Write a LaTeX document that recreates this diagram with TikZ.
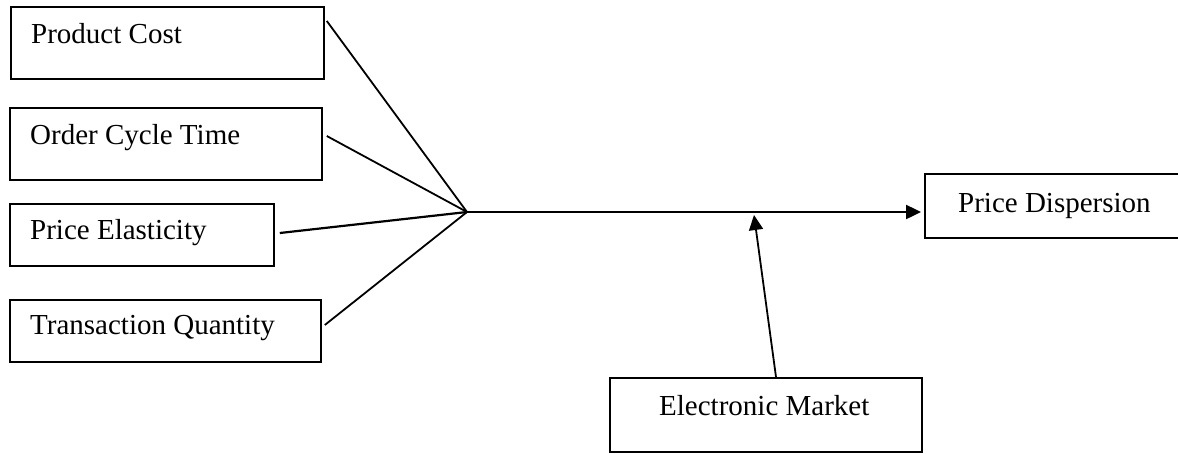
\documentclass[tikz,border=0pt]{standalone}
\usepackage{fontspec}
\setmainfont{Liberation Serif}
\usetikzlibrary{arrows.meta,calc}
\begin{document}
\begin{tikzpicture}[x=1pt,y=-1pt,
  box/.style={draw, line width=1.8pt, inner sep=0pt, anchor=north west},
  lbl/.style={anchor=base west, inner sep=0pt, font=\fontsize{29}{34}\selectfont},
  conn/.style={line width=1.8pt},
  tip/.style={-{Triangle[length=15pt,width=14pt]}}]
\useasboundingbox (0,0) rectangle (1178,453);
\node[box, minimum width=313pt, minimum height=72pt] (pc) at (10,6) {};
\node[box, minimum width=312pt, minimum height=72pt] (oct) at (9,107) {};
\node[box, minimum width=264pt, minimum height=62pt] (pe) at (9,203) {};
\node[box, minimum width=311pt, minimum height=62pt] (tq) at (9,299) {};
\node[box, minimum width=260pt, minimum height=64pt] (pd) at (924,173) {};
\node[box, minimum width=312pt, minimum height=74pt] (em) at (609,377) {};
\node[lbl] (pct) at (31,43) {Product Cost};
\node[lbl] (octt) at (30,144) {Order Cycle Time};
\node[lbl] (pet) at (30,239) {Price Elasticity};
\node[lbl] (tqt) at (30,334) {Transaction Quantity};
\node[lbl] (pdt) at (958,212) {Price Dispersion};
\node[lbl] (emt) at (659,415) {Electronic Market};
\coordinate (J) at (467,212);
\coordinate (M) at (754,215);
\draw[conn] ($(pc.north east)+(2,15)$) -- (J);
\draw[conn] ($(oct.north east)+(4,29)$) -- (J);
\draw[conn, line width=2.2pt] ($(pe.north east)+(5,30)$) -- (J);
\draw[conn] ($(tq.north east)+(3,26)$) -- (J);
\draw[conn, line width=2.4pt, tip, shorten >=3pt] (J) -- (J -| pd.west);
\draw[conn, tip] ($(em.north west)+(167,0)$) -- (M);
\end{tikzpicture}
\end{document}
